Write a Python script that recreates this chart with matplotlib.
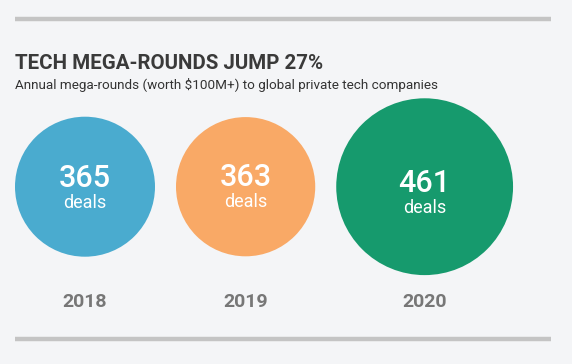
#!/usr/bin/env python3
"""Tech mega-rounds bubble chart."""

import matplotlib
matplotlib.use("Agg")
import matplotlib.pyplot as plt
from matplotlib.patches import Circle

years = ["2018", "2019", "2020"]
deals = [365, 363, 461]
colors = ["#4AABCF", "#F9A966", "#169A6D"]

TITLE = "TECH MEGA-ROUNDS JUMP 27%"
SUBTITLE = "Annual mega-rounds (worth $100M+) to global private tech companies"

W, H = 572, 364
BG = "#F4F5F7"
RULE = "#C4C4C4"
PX_PER_DEAL = 70 / 365  # radius scales linearly with deal count
GAP = 21
LEFT = 15
CY = 186.7
YEAR_Y = 307

plt.rcParams["font.family"] = ["Roboto", "DejaVu Sans"]


def main():
    fig = plt.figure(figsize=(W / 100, H / 100), dpi=100, facecolor=BG)
    ax = fig.add_axes([0, 0, 1, 1])
    ax.set_xlim(0, W)
    ax.set_ylim(H, 0)
    ax.axis("off")
    ax.set_facecolor(BG)

    # rules top and bottom
    ax.plot([15, 551], [18.5, 18.5], color=RULE, linewidth=3.2, solid_capstyle="butt")
    ax.plot([15, 551], [339, 339], color=RULE, linewidth=3.2, solid_capstyle="butt")

    ax.text(LEFT, 69, TITLE, fontsize=14.8, fontweight="bold", color="#3A3A3A",
            va="baseline", ha="left")
    ax.text(LEFT, 89, SUBTITLE, fontsize=9.7, color="#333333",
            va="baseline", ha="left")

    x = LEFT
    for year, n, c in zip(years, deals, colors):
        r = n * PX_PER_DEAL
        cx = x + r
        ax.add_patch(Circle((cx, CY), r, color=c, linewidth=0))
        off = 0.27 * r - 19
        ax.text(cx, CY + off, str(n), fontsize=22, color="white",
                ha="center", va="baseline", fontweight="medium")
        ax.text(cx, CY + off + 21, "deals", fontsize=13, color="white",
                ha="center", va="baseline")
        ax.text(cx, YEAR_Y, year, fontsize=14, fontweight="bold", color="#777777",
                ha="center", va="baseline")
        x = cx + r + GAP

    fig.savefig("out.png", dpi=100, facecolor=BG)


if __name__ == "__main__":
    main()
